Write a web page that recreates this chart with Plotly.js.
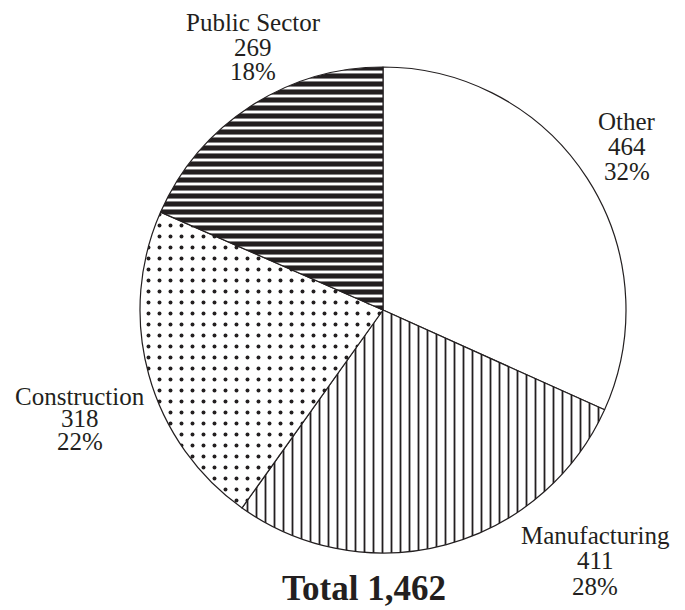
<!DOCTYPE html>
<html>
<head>
<meta charset="utf-8">
<script src="https://cdn.plot.ly/plotly-3.0.1.min.js"></script>
<style>html,body{margin:0;padding:0;background:#fff;}#chart{width:685px;height:610px;}</style>
</head>
<body>
<div id="chart"></div>
<script>
// Data
const categories = ["Other", "Manufacturing", "Construction", "Public Sector"];
const values = [464, 411, 318, 269];

// Styling (not data)
const patternShapes = ["", "|", ".", "-"];
const patternSizes = [8, 9, 11, 8];
const patternSolidity = [0.2, 0.2, 0.1, 0.64];
// label anchor positions in pixels: centre x, line centres y
const labelX = [627, 595, 80, 253];
const labelY = [[122, 146.5, 171], [535, 560.5, 586], [396, 418.5, 441], [23, 47.5, 72]];

const W = 685, H = 610;
const ink = "#231f20";
const serif = "Liberation Serif, Times New Roman, serif";
const total = values.reduce((a, b) => a + b, 0);

const trace = {
  type: "pie",
  labels: categories,
  values: values,
  sort: false,
  direction: "clockwise",
  rotation: 0,
  textinfo: "none",
  hoverinfo: "none",
  showlegend: false,
  domain: {x: [140 / W, 626 / W], y: [1 - 553 / H, 1 - 67 / H]},
  marker: {
    colors: ["#ffffff", "#ffffff", "#ffffff", "#ffffff"],
    line: {color: ink, width: 1.2},
    pattern: {
      shape: patternShapes,
      size: patternSizes,
      solidity: patternSolidity,
      fgcolor: ink,
      fgopacity: 1,
      bgcolor: "#ffffff",
      fillmode: "replace"
    }
  }
};

const annotations = [];
categories.forEach((c, i) => {
  const pct = Math.round(values[i] / total * 100) + "%";
  const lines = [c, String(values[i]), pct];
  lines.forEach((t, j) => {
    annotations.push({
      text: t,
      showarrow: false,
      xref: "paper", yref: "paper",
      x: labelX[i] / W,
      y: 1 - labelY[i][j] / H,
      xanchor: "center", yanchor: "middle",
      font: {family: serif, size: 25, color: ink}
    });
  });
});

const layout = {
  width: W, height: H,
  margin: {l: 0, r: 0, t: 0, b: 0},
  paper_bgcolor: "#ffffff",
  title: {
    text: "<b>Total " + total.toLocaleString("en-US") + "</b>",
    font: {family: serif, size: 35, color: ink},
    x: 364 / W, xanchor: "center", xref: "paper",
    y: 1 - 588 / H, yanchor: "middle", yref: "container"
  },
  annotations: annotations
};

Plotly.newPlot("chart", [trace], layout, {staticPlot: true, displayModeBar: false});
</script>
</body>
</html>
